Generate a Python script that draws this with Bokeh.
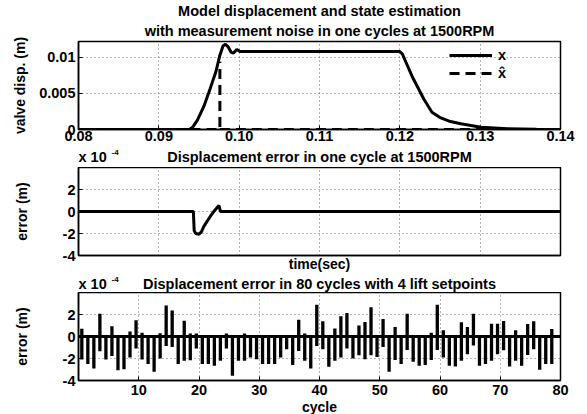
import numpy as np
from bokeh.plotting import figure
from bokeh.layouts import column
from bokeh.models import (Range1d, FixedTicker, Label, Legend, LegendItem, Span,
                          ColumnDataSource, Title)
from bokeh.embed import file_html
from bokeh.resources import INLINE

FONT = "Liberation Sans"
FS = "14.5px"
FS_AX = "14px"

# ---------------- top panel: valve displacement x (m) and estimate vs time (s)
t_x = [0.0800, 0.0938, 0.0942, 0.0948, 0.0956, 0.0964, 0.0971, 0.0976, 0.0980,
       0.0983, 0.0986, 0.0990, 0.0993, 0.0997, 0.1001, 0.1005, 0.1200, 0.1203,
       0.1216, 0.1230, 0.1240, 0.1251, 0.1263, 0.1276, 0.1301, 0.1334, 0.1370,
       0.1400]
x_disp = [0.0, 0.0, 0.0003, 0.0013, 0.0032, 0.0057, 0.0080, 0.0103, 0.0116,
          0.0118, 0.0115, 0.0107, 0.0106, 0.0111, 0.0108, 0.0108, 0.0108, 0.0105,
          0.0072, 0.0042, 0.0024, 0.0016, 0.0011, 0.0008, 0.0003, 0.0001, 0.00002,
          0.0]
t_xhat = [0.0800, 0.0976, 0.0976, np.nan, 0.0976, 0.1400]
x_hat = [0.0, 0.0, 0.0094, np.nan, 0.0, 0.0]
time_ticks = [0.08, 0.09, 0.10, 0.11, 0.12, 0.13, 0.14]
time_labels = ["0.08", "0.09", "0.10", "0.11", "0.12", "0.13", "0.14"]
disp_ticks = [0.0, 0.005, 0.01]
disp_labels = ["0", "0.005", "0.01"]

# ---------------- middle panel: error in one cycle (x 1e-4 m)
t_err = [0.0800, 0.0943, 0.09440, 0.0946, 0.0950, 0.0953, 0.0956, 0.0960,
         0.0964, 0.0969, 0.09747, 0.09768, 0.1400]
err_one = [0.0, 0.0, -1.75, -2.0, -2.06, -1.85, -1.36, -0.9, -0.45, 0.05, 0.55,
           0.0, 0.0]
err_ticks = [-4, -2, 0, 2]
err_labels = ["-4", "-2", "0", "2"]

# ---------------- bottom panel: error range in each cycle (x 1e-4 m)
cycles = list(range(1, 80))
err_hi = [0.7, 0, 0, 2.07, 0, 0.93, 0, 0, 0.45, 1.47,
          0.33, 0, 0, 0.3, 2.82, 2.37, 0, 1.44, 0.27, 0.27,
          0, 0, 0, 0, 0.27, 0, 0, 0.27, 0, 0,
          0, 0, 0, 0, 0, 0, 1.53, 0.27, 0, 2.88,
          1.38, 0, 0.72, 1.83, 2.13, 0, 1.0, 1.32, 2.67, 0,
          1.6, 0, 0.87, 0, 2.07, 0, 0, 0, 0.33, 2.88,
          0.57, 0, 0, 1.29, 0.87, 2.07, 0, 0, 1.17, 1.17,
          1.41, 0, 0.57, 0, 1.14, 1.38, 0, 0, 0.69]
err_lo = [-2.1, -2.5, -2.9, -1.35, -2.1, -1.77, -3.06, -2.97, -1.92, -1.1,
          -2.1, -2.5, -3.2, -2.0, -0.87, -0.96, -2.5, -2.2, -2.16, -1.1,
          -2.5, -2.5, -2.67, -2.2, -1.08, -3.57, -2.2, -2.2, -1.92, -2.07,
          -2.5, -2.5, -2.5, -1.92, -1.17, -2.6, -1.32, -2.2, -2.9, -0.87,
          -1.17, -2.76, -2.2, -1.92, -1.1, -2.0, -1.7, -2.07, -1.7, -1.86,
          -0.96, -3.2, -2.13, -2.5, -1.23, -2.3, -2.67, -2.6, -2.13, -1.23,
          -1.92, -2.67, -2.73, -2.2, -1.62, -0.81, -2.67, -2.5, -2.2, -1.62,
          -1.26, -2.73, -2.2, -2.67, -1.68, -1.17, -3.03, -2.5, -2.5]
cycle_ticks = [10, 20, 30, 40, 50, 60, 70, 80]

titles = ["Model displacement and state estimation",
          "with measurement noise in one cycles at 1500RPM",
          "Displacement error in one cycle at 1500RPM",
          "Displacement error in 80 cycles with 4 lift setpoints"]

W_LEFT, W_FRAME, W_RIGHT = 78, 482, 19


def base_fig(fh, top, bottom, **kw):
    return figure(frame_width=W_FRAME, frame_height=fh,
                  min_border_left=W_LEFT, min_border_right=W_RIGHT,
                  min_border_top=top, min_border_bottom=bottom,
                  output_backend="svg", toolbar_location=None,
                  background_fill_color="white", border_fill_color="white", **kw)


def header(h):
    p = base_fig(h, 0, 0, x_axis_type=None, y_axis_type=None,
                 x_range=Range1d(0, 1), y_range=Range1d(0, 1))
    p.outline_line_color = None
    return p


def txt(p, x, y, s, size=FS, align="center"):
    p.add_layout(Label(x=x, y=y, x_units="screen", y_units="screen", text=s,
                       text_font=FONT, text_font_style="bold",
                       text_font_size=size, text_align=align,
                       text_baseline="middle", text_color="black"))


def make_fig(xr, yr, fh, top, bottom):
    p = base_fig(fh, top, bottom, x_range=xr, y_range=yr)
    p.outline_line_color = "black"
    p.outline_line_width = 1.5
    p.outline_line_alpha = 1.0
    for ax in (p.xaxis[0], p.yaxis[0]):
        ax.major_label_text_font = FONT
        ax.major_label_text_font_style = "bold"
        ax.major_label_text_font_size = FS
        ax.major_label_text_color = "black"
        ax.axis_label_text_font = FONT
        ax.axis_label_text_font_style = "bold"
        ax.axis_label_text_font_size = FS_AX
        ax.axis_label_text_color = "black"
        ax.major_tick_in = 4
        ax.major_tick_out = 0
        ax.major_tick_line_color = "black"
        ax.minor_tick_line_color = None
        ax.axis_line_color = "black"
        ax.axis_line_width = 1.5
        ax.major_label_standoff = 3
    for g in (p.xgrid[0], p.ygrid[0]):
        g.grid_line_color = "#666666"
        g.grid_line_dash = "1 3"
        g.grid_line_width = 1
    return p


def set_ticks(p, xt, xl, yt, yl):
    p.xaxis[0].ticker = FixedTicker(ticks=xt if xl is not None else [])
    p.xgrid[0].ticker = FixedTicker(ticks=xt)
    p.yaxis[0].ticker = FixedTicker(ticks=yt)
    p.ygrid[0].ticker = FixedTicker(ticks=yt)
    if xl is not None:
        p.xaxis[0].major_label_overrides = {t: s for t, s in zip(xt, xl)}
    p.yaxis[0].major_label_overrides = {t: s for t, s in zip(yt, yl)}


# ---------- figure 1 (two-line title; first item in "above" sits nearest the frame)
p1 = make_fig(Range1d(0.08, 0.14), Range1d(0, 0.0122), 88, 40, 18)
for s, so in ((titles[1], 5), (titles[0], 0)):
    p1.add_layout(Title(text=s, align="center", text_font=FONT,
                        text_font_style="bold", text_font_size=FS,
                        text_color="black", standoff=so, offset=0), "above")
set_ticks(p1, time_ticks, time_labels, disp_ticks, disp_labels)
p1.xaxis[0].major_label_standoff = 1
p1.yaxis[0].axis_label = "valve disp. (m)"
p1.yaxis[0].axis_label_standoff = 8
r_x = p1.line(t_x, x_disp, line_width=3, color="black")
r_h = p1.line(t_xhat, x_hat, line_width=3, color="black", line_dash="10 6")
leg = Legend(items=[LegendItem(label="x", renderers=[r_x]),
                    LegendItem(label="x\u0302", renderers=[r_h])],
             location=(371, 48), glyph_width=43, glyph_height=16,
             label_standoff=6, spacing=2, padding=0, margin=0,
             border_line_alpha=0, background_fill_alpha=0,
             label_text_font=FONT, label_text_font_style="bold",
             label_text_font_size=FS, label_text_color="black")
p1.add_layout(leg)

# ---------- header 2
h2 = header(20)
txt(h2, W_FRAME / 2, 11, titles[2])
txt(h2, 0, 11, "x 10", align="left")
txt(h2, 33, 15, "-4", size="8px", align="left")

# ---------- figure 2
p2 = make_fig(Range1d(0.08, 0.14), Range1d(-4, 4), 88, 0, 16)
set_ticks(p2, time_ticks, None, err_ticks, err_labels)
p2.xaxis[0].major_label_standoff = 0
p2.xaxis[0].axis_label = "time(sec)"
p2.xaxis[0].axis_label_standoff = 0
p2.yaxis[0].axis_label = "error (m)"
p2.yaxis[0].axis_label_standoff = 30
p2.line(t_err, err_one, line_width=3, color="black")

# ---------- header 3
h3 = header(18)
txt(h3, W_FRAME / 2, 9, titles[3])
txt(h3, 0, 9, "x 10", align="left")
txt(h3, 33, 13, "-4", size="8px", align="left")

# ---------- figure 3
p3 = make_fig(Range1d(0, 80), Range1d(-4, 4), 88, 0, 37)
set_ticks(p3, cycle_ticks, [str(c) for c in cycle_ticks], err_ticks, err_labels)
p3.xaxis[0].major_label_standoff = 4
p3.xaxis[0].axis_label = "cycle"
p3.xaxis[0].axis_label_standoff = 1
p3.yaxis[0].axis_label = "error (m)"
p3.yaxis[0].axis_label_standoff = 30
src = ColumnDataSource(dict(pos=np.array(cycles) - 0.45, hi=err_hi, lo=err_lo))
p3.segment(x0="pos", y0="lo", x1="pos", y1="hi", source=src,
           line_width=3.3, color="black")
p3.add_layout(Span(location=0, dimension="width", line_color="black",
                   line_width=3))

layout = column(p1, h2, p2, h3, p3, spacing=0)
open("out.html", "w").write(file_html(layout, INLINE))
